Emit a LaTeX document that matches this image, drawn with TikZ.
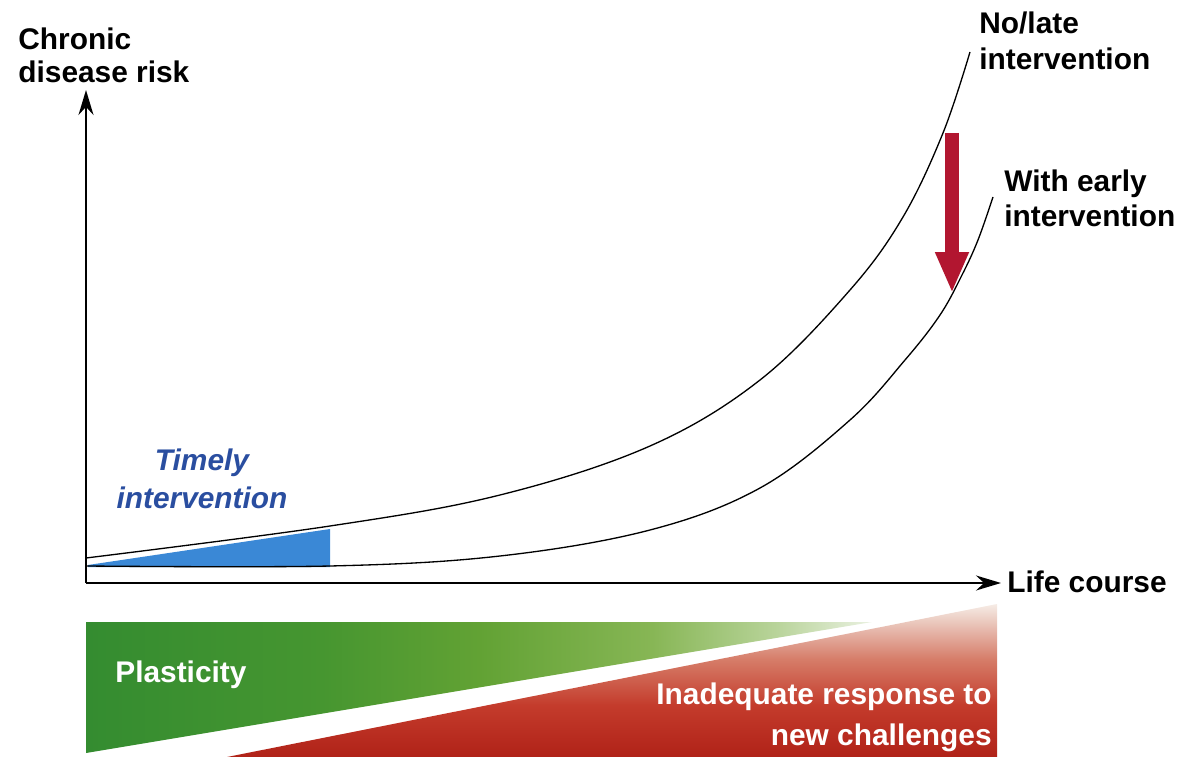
\documentclass[tikz,border=0pt]{standalone}
\usepackage{fontspec}
\setmainfont{Liberation Sans}
\usetikzlibrary{arrows.meta}

\definecolor{timelyfill}{RGB}{58,136,214}
\definecolor{timelytext}{RGB}{42,78,160}
\definecolor{dropred}{RGB}{178,22,48}
\definecolor{plasta}{RGB}{52,140,48}
\definecolor{plastb}{RGB}{70,150,48}
\definecolor{plastc}{RGB}{98,162,52}
\definecolor{plastd}{RGB}{135,182,85}
\definecolor{plaste}{RGB}{185,212,155}
\definecolor{plastf}{RGB}{234,241,225}
\definecolor{riska}{RGB}{176,34,24}
\definecolor{riskb}{RGB}{196,60,44}
\definecolor{riskc}{RGB}{214,125,105}
\definecolor{riskd}{RGB}{236,205,195}
\definecolor{riske}{RGB}{246,236,230}
% path spans 25bp to 75bp of each shading
\pgfdeclarehorizontalshading{plastshade}{100bp}{
  color(0bp)=(plasta); color(25bp)=(plasta); color(40bp)=(plastb);
  color(50bp)=(plastc); color(61bp)=(plastd); color(69bp)=(plaste);
  color(75bp)=(plastf); color(100bp)=(plastf)}
\pgfdeclareverticalshading{riskshade}{100bp}{
  color(0bp)=(riska); color(25bp)=(riska); color(42bp)=(riskb);
  color(57bp)=(riskc); color(70bp)=(riskd); color(75bp)=(riske);
  color(100bp)=(riske)}

\begin{document}
\begin{tikzpicture}[x=0.02cm, y=-0.02cm,
    lbl/.style={font=\fontsize{17}{20}\selectfont\bfseries, inner sep=0pt},
    axis/.style={line width=1.1pt, -{Stealth[length=0.5cm,width=0.3cm]}},
    course/.style={line width=0.75pt}]
  \useasboundingbox (0,0) rectangle (1178,757);
  % bands below the axis
  \shade[shading=plastshade] (86,622) -- (872,622) -- (86,753) -- cycle;
  \shade[shading=riskshade] (227,757) -- (997,604) -- (997,757) -- cycle;
  % timely window
  \fill[timelyfill] (88,565) -- (330,529) -- (330,567) -- (88,567) -- cycle;
  % the two courses
  \draw[course] plot[smooth, tension=0.6] coordinates {(86,558) (330,526) (500,495) (650,446)
    (760,380) (850,290) (903,217) (943,133) (970,52)};
  \draw[course] plot[smooth, tension=0.6] coordinates {(86,566) (330,566) (500,556) (650,530)
    (760,488) (850,420) (905,360) (940,315) (962,275) (978,240) (993,197)};
  % axes
  \coordinate (o) at (86,583);
  \coordinate (ytip) at (86,90);
  \coordinate (xtip) at (1001,583);
  \draw[axis] (o) -- (ytip);
  \draw[axis] (o) -- (xtip);
  % drop
  \coordinate (droptop) at (952,133);
  \coordinate (droptip) at (952,293);
  \draw[dropred, line width=0.28cm, -{Triangle[length=0.82cm,width=0.62cm]}] (droptop) -- (droptip);
  % labels (base = last line)
  \node[lbl, anchor=base west, align=left, font=\fontsize{17}{18.8}\selectfont\bfseries] (ylab) at (18,83) {Chronic\\disease risk};
  \node[lbl, anchor=base west] (xlab) at (1007,592) {Life course};
  \node[lbl, anchor=base west, align=left, font=\fontsize{17}{21}\selectfont\bfseries] (late) at (979,70) {No/late\\intervention};
  \node[lbl, anchor=base west, align=left, font=\fontsize{17}{20}\selectfont\bfseries] (early) at (1004,227) {With early\\intervention};
  \node[lbl, anchor=base, align=center, text=timelytext, font=\fontsize{17}{21.6}\selectfont\bfseries\itshape] (timely) at (202,508) {Timely\\intervention};
  \node[lbl, anchor=base west, text=white] (plast) at (115,682) {Plasticity};
  \node[lbl, anchor=base east, align=right, text=white, font=\fontsize{17}{22.8}\selectfont\bfseries] (inadeq) at (992,745) {Inadequate response to\\new challenges};
\end{tikzpicture}
\end{document}
